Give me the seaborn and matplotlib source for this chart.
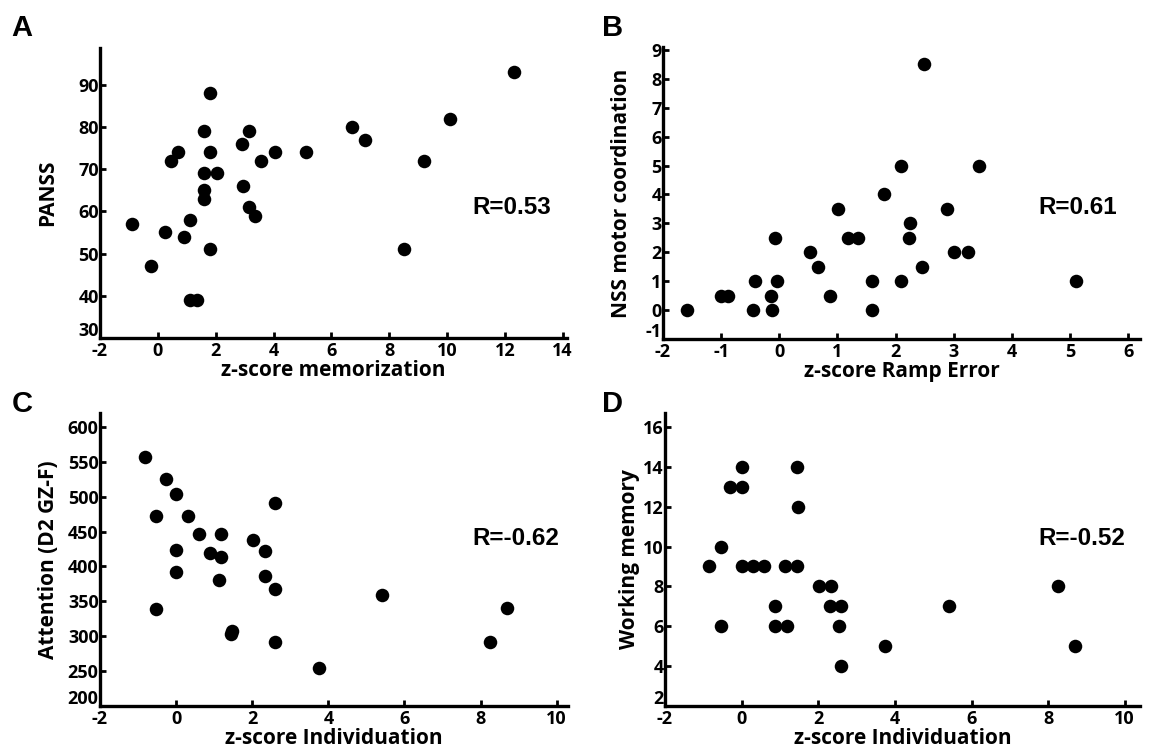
import numpy as np
import pandas as pd
import matplotlib
matplotlib.use("Agg")
import matplotlib.pyplot as plt
import seaborn as sns
from matplotlib.transforms import ScaledTranslation

# Panel A: z-score memorization vs PANSS
mem_z = [-0.91, -0.22, 0.24, 0.44, 0.69, 0.90, 1.12, 1.12, 1.35, 1.58, 1.58, 1.58,
         1.58, 1.81, 1.81, 1.81, 2.05, 2.92, 2.94, 3.14, 3.14, 3.37, 3.58, 4.06,
         5.13, 6.72, 7.17, 8.53, 9.19, 10.12, 12.33]
panss = [57, 47, 55, 72, 74, 54, 58, 39, 39, 79, 69, 65,
         63, 88, 74, 51, 69, 76, 66, 79, 61, 59, 72, 74,
         74, 80, 77, 51, 72, 82, 93]

# Panel B: z-score ramp error vs NSS motor coordination
ramp_z = [-1.58, -1.01, -0.89, -0.45, -0.41, -0.14, -0.13, -0.08, -0.04, 0.52,
          0.66, 0.88, 1.01, 1.18, 1.36, 1.60, 1.60, 1.80, 2.10, 2.10,
          2.23, 2.25, 2.46, 2.49, 2.88, 3.00, 3.24, 3.44, 5.10]
nss = [0, 0.5, 0.5, 0, 1, 0.5, 0, 2.5, 1, 2,
       1.5, 0.5, 3.5, 2.5, 2.5, 1, 0, 4, 5, 1,
       2.5, 3, 1.5, 8.5, 3.5, 2, 2, 5, 1]

# Panel C: z-score individuation vs attention
indiv_c = [-0.82, -0.27, -0.54, -0.54, 0.01, 0.01, 0.01, 0.32, 0.61, 0.89,
           1.17, 1.17, 1.14, 1.45, 1.48, 2.03, 2.34, 2.34, 2.60, 2.60,
           2.60, 3.75, 5.42, 8.25, 8.70]
attention = [557, 525, 473, 339, 504, 424, 392, 472, 446, 419,
             447, 414, 380, 303, 308, 438, 422, 386, 491, 368,
             292, 254, 359, 292, 340]

# Panel D: z-score individuation vs working memory
indiv_d = [-0.85, -0.55, -0.55, -0.30, 0.00, 0.00, 0.00, 0.29, 0.59, 0.88,
           0.88, 1.13, 1.18, 1.45, 1.47, 1.45, 2.03, 2.33, 2.30, 2.60,
           2.55, 2.60, 3.73, 5.41, 8.25, 8.70]
working_mem = [9, 10, 6, 13, 13, 14, 9, 9, 9, 7,
               6, 9, 6, 14, 12, 9, 8, 8, 7, 7,
               6, 4, 5, 7, 8, 5]

sns.set_style("ticks")
plt.rcParams['font.family'] = ['Open Sans', 'DejaVu Sans']
plt.rcParams['text.color'] = 'black'
plt.rcParams['axes.labelcolor'] = 'black'

fig = plt.figure(figsize=(11.51, 7.55), dpi=100)

panels = [
    # letter, x, y, xlabel, ylabel, R text, rect, xlim, ylim, xticks, yticks, R pos
    ("A", mem_z, panss, "z-score memorization", "PANSS", "R=0.53",
     [0.0869, 0.5523, 0.4057, 0.3841], (-2, 14.15), (30, 98.7),
     np.arange(-2, 15, 2), np.arange(30, 91, 10), (0.797, 0.45)),
    ("B", ramp_z, nss, "z-score Ramp Error", "NSS motor coordination", "R=0.61",
     [0.5760, 0.5510, 0.4144, 0.3868], (-2, 6.2), (-1, 9.1),
     np.arange(-2, 7, 1), np.arange(-1, 10, 1), (0.786, 0.45)),
    ("C", indiv_c, attention, "z-score Individuation", "Attention (D2 GZ-F)", "R=-0.62",
     [0.0869, 0.0649, 0.4066, 0.3881], (-2, 10.3), (200, 620),
     np.arange(-2, 11, 2), np.arange(200, 601, 50), (0.795, 0.57)),
    ("D", indiv_d, working_mem, "z-score Individuation", "Working memory", "R=-0.52",
     [0.5778, 0.0649, 0.4127, 0.3881], (-2, 10.4), (2, 16.7),
     np.arange(-2, 11, 2), np.arange(2, 17, 2), (0.785, 0.57)),
]

letter_pos = {"A": (0.010, 0.945), "B": (0.523, 0.945), "C": (0.010, 0.447), "D": (0.523, 0.447)}
ylabel_pad = {"A": 14, "B": 10, "C": 6, "D": 2}

for letter, xs, ys, xlab, ylab, rtxt, rect, xlim, ylim, xt, yt, rpos in panels:
    ax = fig.add_axes(rect)
    df = pd.DataFrame({"x": xs, "y": ys})
    sns.scatterplot(data=df, x="x", y="y", ax=ax, color="black", s=95,
                    linewidth=0, legend=False)
    ax.set_xlim(*xlim)
    ax.set_ylim(*ylim)
    ax.set_xticks(xt)
    ax.set_yticks(yt)
    ax.set_xticklabels([str(int(v)) for v in xt])
    ax.set_yticklabels([str(int(v)) for v in yt])
    for side in ["top", "right"]:
        ax.spines[side].set_visible(False)
    for side in ["left", "bottom"]:
        ax.spines[side].set_linewidth(2.4)
        ax.spines[side].set_color("black")
    ax.tick_params(direction="in", length=4, width=2, labelsize=13, pad=1,
                   colors="black")
    ax.tick_params(axis="x", pad=3)
    for lbl in ax.get_xticklabels() + ax.get_yticklabels():
        lbl.set_fontweight("bold")
    # keep the lowest y label clear of the first x label
    first_y = ax.get_yticklabels()[0]
    first_y.set_verticalalignment("bottom")
    first_y.set_transform(first_y.get_transform() +
                          ScaledTranslation(0, -1.5 / 72, fig.dpi_scale_trans))
    ax.set_xlabel(xlab, fontsize=15, fontweight="bold", labelpad=0)
    ax.set_ylabel(ylab, fontsize=15, fontweight="bold", labelpad=ylabel_pad[letter])
    ax.text(rpos[0], rpos[1], rtxt, transform=ax.transAxes, fontsize=17.5,
            fontweight="bold", family="Liberation Sans", ha="left", va="center")
    lx, ly = letter_pos[letter]
    fig.text(lx, ly, letter, fontsize=21, fontweight="bold", family="Liberation Sans",
             ha="left", va="bottom")

fig.savefig("out.png", dpi=100)
